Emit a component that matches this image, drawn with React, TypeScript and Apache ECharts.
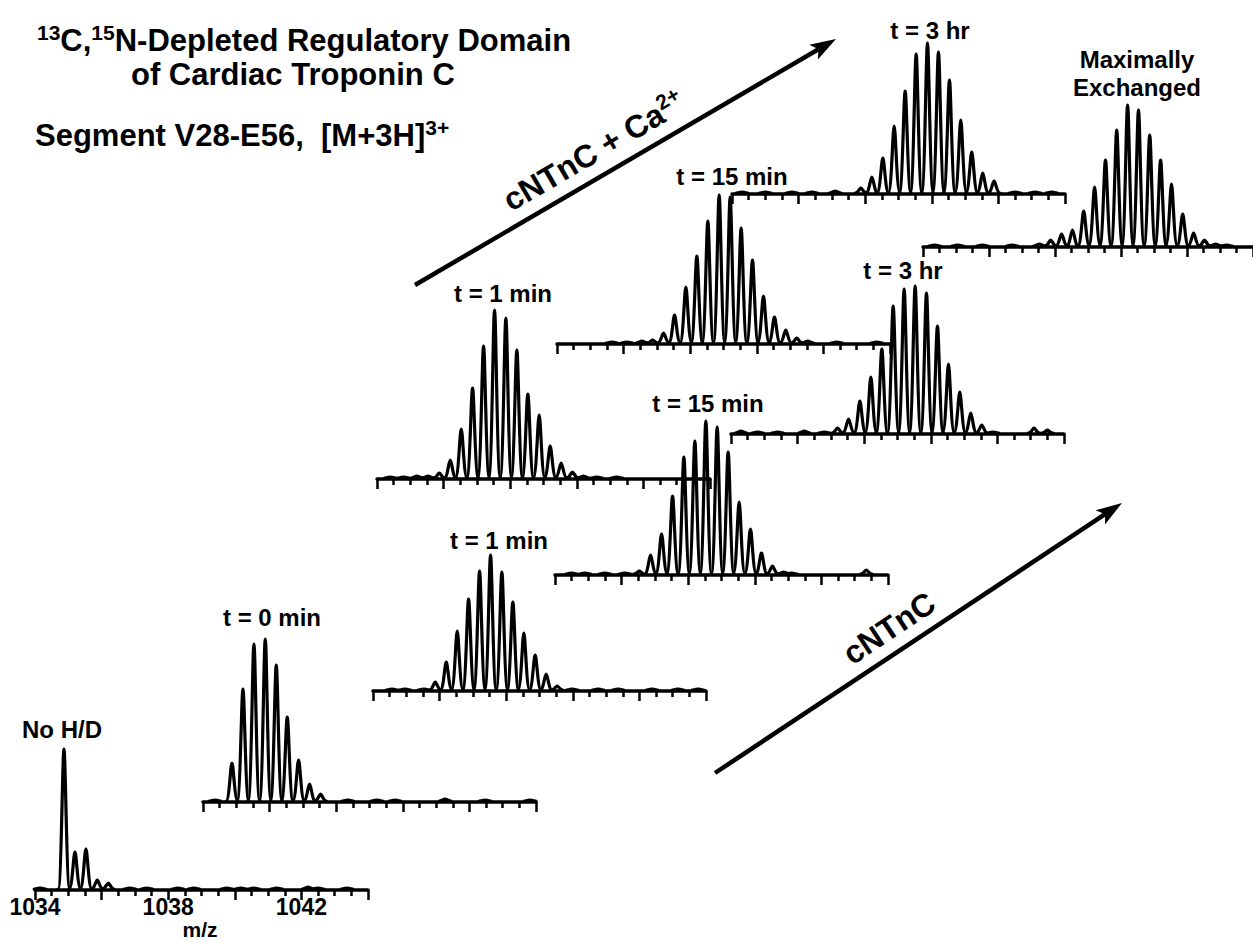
import React, { useEffect, useRef } from "react";
import * as echarts from "echarts";

// ---------- DATA ----------
// isotopic peak positions (m/z) of the [M+3H]3+ ion, spacing 1/3 m/z
const ISOTOPE_MZ = [
  1034.87, 1035.2, 1035.53, 1035.87, 1036.2, 1036.53, 1036.87, 1037.2, 1037.53,
  1037.87, 1038.2, 1038.53, 1038.87, 1039.2, 1039.53, 1039.87, 1040.2, 1040.53,
  1040.87, 1041.2, 1041.53, 1041.87, 1042.2, 1042.53, 1042.87,
];
const TICK_LABELS = [1034, 1038, 1042];

// intensities (arbitrary units) for each isotope peak above
const NO_HD = [141, 38, 41, 10, 7, 0, 0, 0, 0, 0, 0, 0, 0, 0, 0, 0, 0, 0, 0, 0, 0, 0, 0, 0, 0];
const T0 = [39, 113, 158, 163, 137, 85, 42, 18, 8, 0, 0, 0, 0, 0, 0, 0, 0, 0, 0, 0, 0, 0, 0, 0, 0];
const APO_1MIN = [0, 0, 2, 9, 29, 60, 92, 120, 136, 119, 89, 58, 36, 17, 5, 0, 0, 0, 0, 0, 0, 0, 0, 0, 0];
const CA_1MIN = [0, 0, 3, 6, 19, 50, 91, 133, 169, 161, 129, 85, 64, 33, 16, 7, 0, 0, 0, 0, 0, 0, 0, 0, 0];
const APO_15MIN = [0, 0, 0, 0, 0, 4, 20, 41, 79, 118, 134, 154, 148, 123, 73, 46, 22, 9, 3, 0, 0, 0, 0, 0, 0];
const CA_15MIN = [0, 0, 0, 0, 0, 0, 4, 11, 29, 57, 88, 123, 149, 147, 116, 84, 48, 27, 14, 6, 3, 0, 0, 0, 0];
const APO_3HR = [0, 0, 0, 0, 0, 0, 0, 6, 15, 33, 57, 85, 128, 145, 148, 141, 108, 70, 42, 21, 9, 2, 0, 0, 0];
const CA_3HR = [0, 0, 0, 0, 0, 0, 0, 0, 0, 6, 17, 36, 68, 103, 140, 151, 142, 114, 74, 42, 21, 13, 0, 0, 0];
const MAX_EXCH = [0, 0, 0, 0, 0, 0, 0, 0, 3, 7, 13, 17, 36, 60, 87, 117, 142, 137, 112, 87, 63, 33, 14, 7, 3];

// small baseline noise bumps [m/z, intensity]
const NOISE_NO_HD = [[1034.15, 2], [1036.85, 2], [1037.36, 2], [1038.29, 2], [1038.77, 2], [1039.76, 2], [1040.18, 2], [1040.57, 2], [1041.26, 2], [1042.2, 3], [1042.5, 2], [1043.37, 2]];
const NOISE_T0 = [[1034.36, 2], [1038.35, 2], [1039.22, 2], [1039.77, 2], [1041.27, 3], [1042.47, 2], [1043.82, 2]];
const NOISE_APO_1MIN = [[1034.57, 2], [1034.96, 2], [1039.98, 2], [1040.76, 2], [1041.36, 2], [1042.38, 2], [1043.16, 2], [1043.76, 2]];
const NOISE_CA_1MIN = [[1034.4, 2], [1034.8, 2], [1035.2, 3], [1040.2, 3], [1040.6, 2], [1041.2, 2]];
const NOISE_APO_15MIN = [[1034.5, 2], [1034.9, 2], [1035.5, 2], [1036.1, 2], [1041.1, 2], [1043.35, 5]];
const NOISE_CA_15MIN = [[1035.65, 2], [1036.1, 2], [1036.55, 3], [1042.4, 2], [1043.6, 2]];
const NOISE_APO_3HR = [[1034.3, 3], [1034.8, 2], [1035.4, 2], [1036.2, 3], [1036.8, 2], [1043.1, 6], [1043.5, 4]];
const NOISE_CA_3HR = [[1034.3, 2], [1035.0, 2], [1035.8, 2], [1036.4, 2], [1037.1, 3], [1042.5, 2], [1043.1, 2], [1043.6, 2]];
const NOISE_MAX = [[1034.35, 2], [1035.05, 2], [1035.8, 2], [1036.7, 2], [1043.2, 2]];

const PANEL_LABELS = ["No H/D", "t = 0 min", "t = 1 min", "t = 1 min", "t = 15 min", "t = 15 min", "t = 3 hr", "t = 3 hr", "Maximally\nExchanged"];
const PANEL_DATA = [NO_HD, T0, APO_1MIN, CA_1MIN, APO_15MIN, CA_15MIN, APO_3HR, CA_3HR, MAX_EXCH];
const PANEL_NOISE = [NOISE_NO_HD, NOISE_T0, NOISE_APO_1MIN, NOISE_CA_1MIN, NOISE_APO_15MIN, NOISE_CA_15MIN, NOISE_APO_3HR, NOISE_CA_3HR, NOISE_MAX];

// ---------- LAYOUT ----------
const FF = "'Liberation Sans', Arial, Helvetica, sans-serif";
const W = 1253;
const H = 942;
const PANEL_W = 333;
const PANEL_H = 180;
const Y_MAX = 180;
// axis start x, baseline y, label centre
const LAYOUT = [
  { x: 35, y: 890, lx: 62, ly: 729 },
  { x: 203, y: 802, lx: 272, ly: 617 },
  { x: 373, y: 691, lx: 499, ly: 540 },
  { x: 377, y: 479, lx: 503, ly: 293 },
  { x: 555, y: 575, lx: 708, ly: 403 },
  { x: 557, y: 344, lx: 732, ly: 176 },
  { x: 731, y: 434, lx: 903, ly: 270 },
  { x: 732, y: 194, lx: 930, ly: 30 },
  { x: 923, y: 247, lx: 1137, ly: 73 },
];

function renderPeak(params: any, api: any) {
  const mz = api.value(0);
  const h = api.value(1);
  const base = api.coord([mz, 0]);
  const top = api.coord([mz, h]);
  const w = api.size([0.175, 0])[0];
  const x = base[0];
  const y0 = base[1] - 1;
  const yt = top[1];
  const d =
    `M${x - w},${y0} C${x - 0.45 * w},${y0} ${x - 0.25 * w},${yt} ${x},${yt} ` +
    `C${x + 0.25 * w},${yt} ${x + 0.45 * w},${y0} ${x + w},${y0}`;
  return {
    type: "path",
    shape: { pathData: d },
    style: { fill: "none", stroke: "#000", lineWidth: 3.2, lineJoin: "round", lineCap: "round" },
  };
}

function arrow(x1: number, y1: number, x2: number, y2: number) {
  const dx = x2 - x1, dy = y2 - y1, L = Math.hypot(dx, dy);
  const ux = dx / L, uy = dy / L, nx = -uy, ny = ux;
  const hl = 26, hw = 8.5;
  const bx = x2 - ux * hl, by = y2 - uy * hl;
  const qx = x2 - ux * hl * 0.78, qy = y2 - uy * hl * 0.78;
  return [
    { type: "line", shape: { x1, y1, x2: qx, y2: qy }, style: { stroke: "#000", lineWidth: 4.5 } },
    {
      type: "polygon",
      shape: { points: [[x2, y2], [bx + nx * hw, by + ny * hw], [qx, qy], [bx - nx * hw, by - ny * hw]] },
      style: { fill: "#000" },
    },
  ];
}

const bold = (size: number, extra: any = {}) => ({
  fontSize: size,
  fontWeight: "bold",
  fontFamily: FF,
  fill: "#000",
  ...extra,
});

function buildOption() {
  const grid: any[] = [];
  const xAxis: any[] = [];
  const yAxis: any[] = [];
  const series: any[] = [];
  LAYOUT.forEach((p, i) => {
    grid.push({ left: p.x, top: p.y - PANEL_H, width: PANEL_W, height: PANEL_H, containLabel: false });
    xAxis.push({
      gridIndex: i,
      type: "value",
      min: 1034,
      max: 1044,
      interval: 2,
      axisLine: { show: true, onZero: false, lineStyle: { color: "#000", width: 3.5 } },
      axisTick: { show: true, length: 10, lineStyle: { color: "#000", width: 2.5 } },
      minorTick: { show: true, splitNumber: 4, length: 6, lineStyle: { color: "#000", width: 2.5 } },
      splitLine: { show: false },
      minorSplitLine: { show: false },
      axisLabel:
        i === 0
          ? {
              show: true,
              margin: 5,
              color: "#000",
              fontSize: 23,
              lineHeight: 23,
              fontWeight: "bold",
              fontFamily: FF,
              formatter: (v: number) => (TICK_LABELS.includes(v) ? String(v) : ""),
            }
          : { show: false },
    });
    yAxis.push({ gridIndex: i, type: "value", min: 0, max: Y_MAX, show: false });
    const peaks = ISOTOPE_MZ.map((mz, k) => [mz, PANEL_DATA[i][k]]).filter((d) => d[1] > 0);
    series.push({
      type: "custom",
      xAxisIndex: i,
      yAxisIndex: i,
      renderItem: renderPeak,
      data: [...PANEL_NOISE[i], ...peaks],
      silent: true,
    });
  });

  const graphic: any[] = [];
  LAYOUT.forEach((p, i) => {
    graphic.push({
      type: "text",
      x: p.lx,
      y: p.ly,
      style: { text: PANEL_LABELS[i], ...bold(24), align: "center", verticalAlign: "middle", lineHeight: 28 },
    });
  });
  graphic.push({
    type: "text",
    x: 200,
    y: 929,
    style: { text: "m/z", ...bold(21), lineHeight: 21, align: "center", verticalAlign: "middle" },
  });

  const titleRich = {
    b: bold(31, { lineHeight: 36 }),
    s: bold(21, { lineHeight: 21, verticalAlign: "top" }),
  };
  graphic.push({
    type: "text",
    x: 37,
    y: 40,
    style: { text: "{s|13}{b|C,}{s|15}{b|N-Depleted Regulatory Domain}", rich: titleRich, align: "left", verticalAlign: "middle" },
  });
  graphic.push({ type: "text", x: 131, y: 74, style: { text: "of Cardiac Troponin C", ...bold(31), align: "left", verticalAlign: "middle" } });
  graphic.push({
    type: "text",
    x: 35,
    y: 135,
    style: { text: "{b|Segment V28-E56,  [M+3H]}{s|3+}", rich: titleRich, align: "left", verticalAlign: "middle" },
  });

  graphic.push(...arrow(415, 285, 836, 39));
  graphic.push(...arrow(715, 773, 1122, 503));
  const arrowRich = {
    b: bold(32, { lineHeight: 38 }),
    s: bold(21, { lineHeight: 21, verticalAlign: "top" }),
  };
  graphic.push({
    type: "text",
    x: 594,
    y: 151,
    rotation: Math.atan2(246, 421),
    style: { text: "{b|cNTnC + Ca}{s|2+}", rich: arrowRich, align: "center", verticalAlign: "middle" },
  });
  graphic.push({
    type: "text",
    x: 889,
    y: 628,
    rotation: Math.atan2(270, 407),
    style: { text: "cNTnC", ...bold(32), align: "center", verticalAlign: "middle" },
  });

  return {
    animation: false,
    backgroundColor: "#fff",
    grid,
    xAxis,
    yAxis,
    series,
    graphic,
  };
}

export default function App() {
  const ref = useRef<HTMLDivElement>(null);
  useEffect(() => {
    if (!ref.current) return;
    const chart = echarts.init(ref.current, undefined, { renderer: "svg" });
    chart.setOption(buildOption() as any);
    return () => chart.dispose();
  }, []);
  return (
    <div
      ref={ref}
      style={{ position: "absolute", left: 0, top: 0, width: W, height: H, background: "#fff" }}
    />
  );
}
